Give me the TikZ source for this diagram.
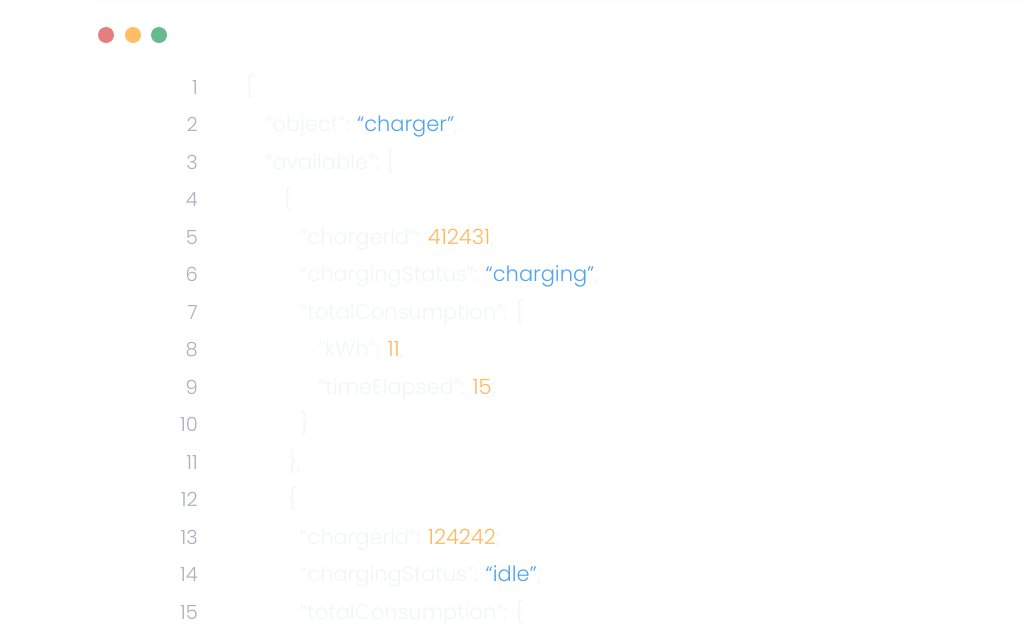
\documentclass[tikz,border=0pt]{standalone}
\usepackage{fontspec}
\setmainfont{Poppins}[UprightFont=* Light]
\definecolor{faint}{HTML}{F1F4F9}
\definecolor{numc}{HTML}{A9B0C0}
\definecolor{blu}{HTML}{4DA3F5}
\definecolor{org}{HTML}{FFB85C}
\definecolor{dred}{HTML}{E57F7F}
\definecolor{dorg}{HTML}{FFBE66}
\definecolor{dgrn}{HTML}{66BB8E}
\newcommand{\B}[1]{\textcolor{blu}{#1}}
\newcommand{\Or}[1]{\textcolor{org}{#1}}
\begin{document}
\begin{tikzpicture}[x=1pt,y=-1pt,
  num/.style={anchor=base east,text=numc,font=\fontsize{19.5}{19}\selectfont,inner sep=0},
  code/.style={anchor=base west,text=faint,font=\fontsize{21}{21}\selectfont,inner sep=0},
  dot/.style={circle,minimum size=16,inner sep=0}]
\useasboundingbox (0,0) rectangle (1024,630);
\draw[faint!50,line width=0.5] (62,40) arc[start angle=180,end angle=270,radius=40] -- (1024,0);
\node[dot,fill=dred] (d1) at (106,35) {};
\node[dot,fill=dorg] (d2) at (133,35) {};
\node[dot,fill=dgrn] (d3) at (159,35) {};
\foreach \n/\x/\t [count=\i] in {
 1/245/{\{},
 2/265/{“object”: \B{“charger”},},
 3/265/{“available”: [},
 4/283/{\{},
 5/300/{“chargerId”: \Or{412431};},
 6/300/{“chargingStatus”: \B{“charging”};},
 7/300/{“totalConsumption”: \{},
 8/318/{“kWh”: \Or{11},},
 9/318/{“timeElapsed”: \Or{15};},
 10/300/{\}},
 11/288/{\},},
 12/288/{\{},
 13/300/{“chargerId”: \Or{124242};},
 14/300/{“chargingStatus”: \B{“idle”};},
 15/300/{“totalConsumption”: \{}} {
  \node[num] (n\n) at (198,{94+(\i-1)*37.5}) {\n};
  \node[code] (c\n) at (\x,{94+(\i-1)*37.5}) {\t};
}
\end{tikzpicture}
\end{document}
